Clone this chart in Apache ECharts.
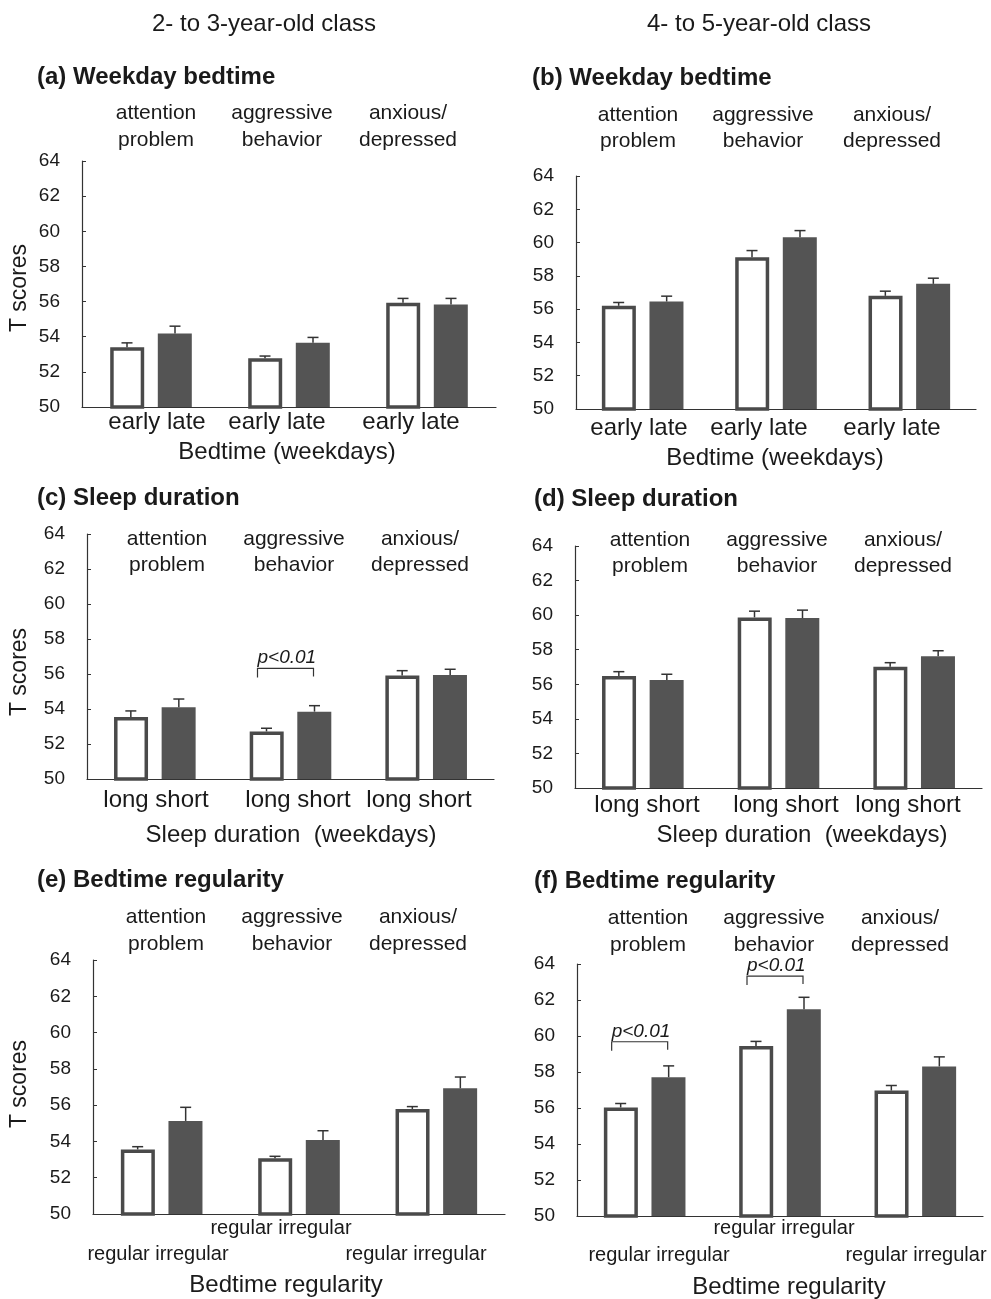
<!DOCTYPE html>
<html>
<head>
<meta charset="utf-8">
<script src="https://cdn.jsdelivr.net/npm/echarts@6/dist/echarts.min.js"></script>
<style>
html, body { margin: 0; padding: 0; background: #fff; }
#main { width: 991px; height: 1299px; }
</style>
</head>
<body>
<div id="main"></div>
<script>
// problem scales shown above each group
var scales = ['attention\nproblem', 'aggressive\nbehavior', 'anxious/\ndepressed'];
var bedtimeTicks = ['early late', 'early late', 'early late'];
var durationTicks = ['long short', 'long short', 'long short'];
var regularityTicks = ['regular irregular', 'regular irregular', 'regular irregular'];
var yMin = 50, yMax = 64, yStep = 2;

// (a) 2-3 year olds, weekday bedtime
var aEarly = [53.40, 52.77, 55.93];
var aEarlySE = [0.25, 0.13, 0.25];
var aLate = [54.19, 53.66, 55.84];
var aLateSE = [0.41, 0.30, 0.34];
// (b) 4-5 year olds, weekday bedtime
var bEarly = [56.20, 59.12, 56.80];
var bEarlySE = [0.20, 0.40, 0.28];
var bLate = [56.46, 60.32, 57.52];
var bLateSE = [0.32, 0.40, 0.34];
// (c) 2-3 year olds, sleep duration
var cLong = [53.54, 52.72, 55.92];
var cLongSE = [0.35, 0.18, 0.27];
var cShort = [54.10, 53.85, 55.94];
var cShortSE = [0.47, 0.34, 0.33];
// (d) 4-5 year olds, sleep duration
var dLong = [56.48, 59.87, 57.02];
var dLongSE = [0.25, 0.36, 0.23];
var dShort = [56.25, 59.83, 57.62];
var dShortSE = [0.33, 0.46, 0.32];
// (e) 2-3 year olds, bedtime regularity
var eRegular = [53.56, 53.07, 55.79];
var eRegularSE = [0.15, 0.11, 0.13];
var eIrregular = [55.13, 54.08, 56.93];
var eIrregularSE = [0.75, 0.51, 0.62];
// (f) 4-5 year olds, bedtime regularity
var fRegular = [56.03, 59.44, 56.97];
var fRegularSE = [0.22, 0.26, 0.28];
var fIrregular = [57.71, 61.48, 58.31];
var fIrregularSE = [0.63, 0.67, 0.53];

// significance brackets: [group index, level]
var pText = 'p<0.01';
var cSig = [[1, 56.32]];
var fSig = [[0, 59.68], [1, 63.33]];

var FONT = '"Liberation Sans", Arial, sans-serif';
var INK = '#1a1a1a';

var panels = [
    {title: '(a) Weekday bedtime', ticks: bedtimeTicks, axisName: 'Bedtime (weekdays)',
     white: aEarly, whiteSE: aEarlySE, dark: aLate, darkSE: aLateSE, sig: [],
     grid: {left: 82, top: 161, width: 414, height: 246},
     titlePos: [37, 77], topX: [156, 282, 408], topY: [113, 140],
     tickX: [157, 277, 411], tickY: [422, 422, 422], namePos: [287, 452], tPos: [20, 288]},
    {title: '(b) Weekday bedtime', ticks: bedtimeTicks, axisName: 'Bedtime (weekdays)',
     white: bEarly, whiteSE: bEarlySE, dark: bLate, darkSE: bLateSE, sig: [],
     grid: {left: 576, top: 176, width: 400, height: 233},
     titlePos: [532, 78], topX: [638, 763, 892], topY: [115, 141],
     tickX: [639, 759, 892], tickY: [428, 428, 428], namePos: [775, 458], tPos: null},
    {title: '(c) Sleep duration', ticks: durationTicks, axisName: 'Sleep duration  (weekdays)',
     white: cLong, whiteSE: cLongSE, dark: cShort, darkSE: cShortSE, sig: cSig,
     grid: {left: 87, top: 534, width: 407, height: 245},
     titlePos: [37, 498], topX: [167, 294, 420], topY: [539, 565],
     tickX: [156, 298, 419], tickY: [800, 800, 800], namePos: [291, 835], tPos: [20, 672]},
    {title: '(d) Sleep duration', ticks: durationTicks, axisName: 'Sleep duration  (weekdays)',
     white: dLong, whiteSE: dLongSE, dark: dShort, darkSE: dShortSE, sig: [],
     grid: {left: 575, top: 546, width: 407, height: 242},
     titlePos: [534, 499], topX: [650, 777, 903], topY: [540, 566],
     tickX: [647, 786, 908], tickY: [805, 805, 805], namePos: [802, 835], tPos: null},
    {title: '(e) Bedtime regularity', ticks: regularityTicks, axisName: 'Bedtime regularity',
     white: eRegular, whiteSE: eRegularSE, dark: eIrregular, darkSE: eIrregularSE, sig: [],
     grid: {left: 93, top: 960, width: 412, height: 254},
     titlePos: [37, 880], topX: [166, 292, 418], topY: [917, 944],
     tickX: [158, 281, 416], tickY: [1254, 1228, 1254], namePos: [286, 1285], tPos: [20, 1084]},
    {title: '(f) Bedtime regularity', ticks: regularityTicks, axisName: 'Bedtime regularity',
     white: fRegular, whiteSE: fRegularSE, dark: fIrregular, darkSE: fIrregularSE, sig: fSig,
     grid: {left: 577, top: 964, width: 406, height: 252},
     titlePos: [534, 881], topX: [648, 774, 900], topY: [918, 945],
     tickX: [659, 784, 916], tickY: [1255, 1228, 1255], namePos: [789, 1287], tPos: null}
];

var BAR_W = 34, HALF_STEP = 24;

// upper whisker with cap
function errItem(shift) {
    return function (params, api) {
        var base = api.coord([api.value(0), api.value(1)]);
        var top = api.coord([api.value(0), api.value(2)]);
        var x = base[0] + shift;
        return {
            type: 'group',
            children: [
                {type: 'line', shape: {x1: x, y1: base[1], x2: x, y2: top[1]}, style: {stroke: '#333', lineWidth: 1.5}},
                {type: 'line', shape: {x1: x - 5.5, y1: top[1], x2: x + 5.5, y2: top[1]}, style: {stroke: '#333', lineWidth: 1.5}}
            ]
        };
    };
}

function sigItem(params, api) {
    var c = api.coord([api.value(0), api.value(1)]);
    var xl = c[0] - HALF_STEP - 9, xr = c[0] + HALF_STEP - 1, y = c[1];
    return {
        type: 'group',
        children: [
            {type: 'polyline', shape: {points: [[xl, y + 9], [xl, y], [xr, y], [xr, y + 8]]},
             style: {stroke: '#333', lineWidth: 1.2, fill: 'none'}},
            {type: 'text', style: {text: pText, x: xl, y: y - 1, align: 'left', verticalAlign: 'bottom',
             fontSize: 19, fontStyle: 'italic', fontFamily: FONT, fill: INK}}
        ]
    };
}

var grids = [], xAxes = [], yAxes = [], series = [], graphics = [];

function addText(txt, x, y, size, opts) {
    opts = opts || {};
    graphics.push({
        type: 'text', x: x, y: y, rotation: opts.rotation || 0,
        style: {text: txt, align: opts.align || 'center', verticalAlign: 'middle',
                fontSize: size, fontWeight: opts.bold ? 'bold' : 'normal', fontFamily: FONT, fill: INK}
    });
}

addText('2- to 3-year-old class', 264, 24, 24);
addText('4- to 5-year-old class', 759, 24, 24);

panels.forEach(function (p, i) {
    grids.push(p.grid);
    xAxes.push({
        gridIndex: i, type: 'category', data: p.ticks,
        axisLine: {lineStyle: {color: '#333', width: 1.2}},
        axisTick: {inside: true, length: 4, lineStyle: {color: '#333'}},
        axisLabel: {show: false}
    });
    yAxes.push({
        gridIndex: i, type: 'value', min: yMin, max: yMax, interval: yStep,
        splitLine: {show: false},
        axisLine: {show: true, lineStyle: {color: '#333', width: 1.2}},
        axisTick: {show: true, inside: true, length: 4, lineStyle: {color: '#333'}},
        axisLabel: {fontSize: 19, color: INK, margin: 22, fontFamily: FONT}
    });
    series.push({
        type: 'bar', xAxisIndex: i, yAxisIndex: i, data: p.white, barWidth: BAR_W, barGap: '40%',
        itemStyle: {color: '#fff', borderColor: '#4a4a4a', borderWidth: 3.5}, silent: true
    });
    series.push({
        type: 'bar', xAxisIndex: i, yAxisIndex: i, data: p.dark, barWidth: BAR_W, barGap: '40%',
        itemStyle: {color: '#545454'}, silent: true
    });
    series.push({
        type: 'custom', xAxisIndex: i, yAxisIndex: i, renderItem: errItem(-HALF_STEP), z: 5,
        data: p.white.map(function (m, k) { return [k, m, m + p.whiteSE[k]]; })
    });
    series.push({
        type: 'custom', xAxisIndex: i, yAxisIndex: i, renderItem: errItem(HALF_STEP), z: 5,
        data: p.dark.map(function (m, k) { return [k, m, m + p.darkSE[k]]; })
    });
    if (p.sig.length) {
        series.push({type: 'custom', xAxisIndex: i, yAxisIndex: i, renderItem: sigItem, z: 5, data: p.sig});
    }

    addText(p.title, p.titlePos[0], p.titlePos[1], 24, {align: 'left', bold: true});
    scales.forEach(function (s, k) {
        s.split('\n').forEach(function (line, j) {
            addText(line, p.topX[k], p.topY[j], 21);
        });
    });
    p.ticks.forEach(function (t, k) {
        addText(t, p.tickX[k], p.tickY[k], p.ticks === regularityTicks ? 20 : 24);
    });
    addText(p.axisName, p.namePos[0], p.namePos[1], 24);
    if (p.tPos) {
        addText('T scores', p.tPos[0], p.tPos[1], 23, {rotation: Math.PI / 2});
    }
});

var chart = echarts.init(document.getElementById('main'), null, {renderer: 'canvas'});
chart.setOption({
    backgroundColor: '#fff',
    animation: false,
    grid: grids,
    xAxis: xAxes,
    yAxis: yAxes,
    series: series,
    graphic: graphics
});
</script>
</body>
</html>
